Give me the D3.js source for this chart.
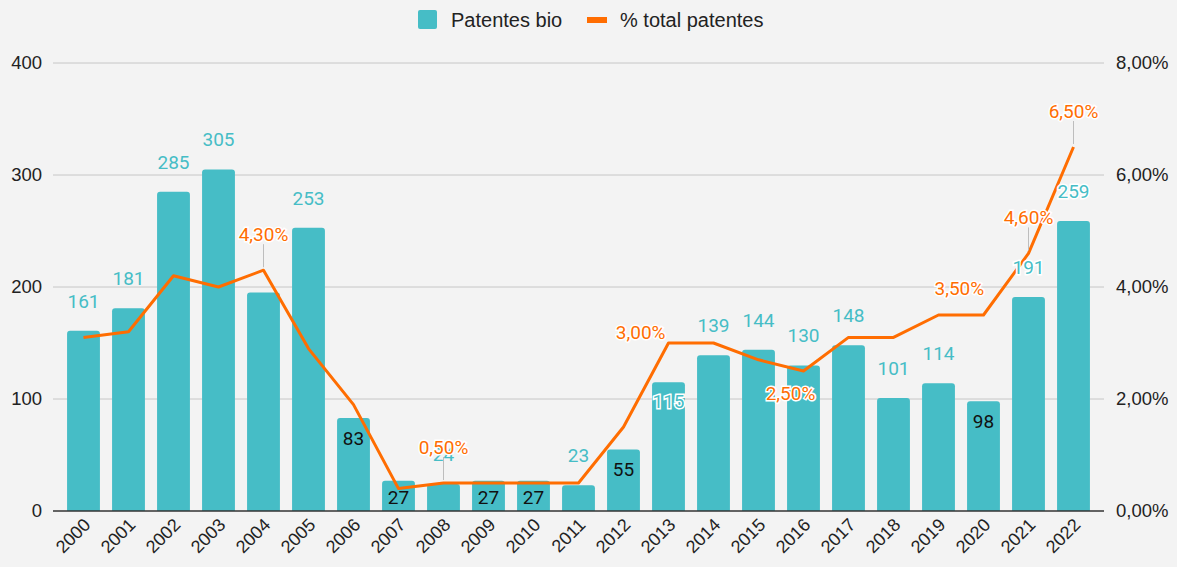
<!DOCTYPE html>
<html>
<head>
<meta charset="utf-8">
<script src="https://cdn.jsdelivr.net/npm/d3@7"></script>
<style>
  body { margin: 0; background: #f3f3f3; }
  svg { display: block; }
</style>
</head>
<body>
<div id="chart"></div>
<script>
// data
var years = ["2000","2001","2002","2003","2004","2005","2006","2007","2008","2009","2010","2011",
             "2012","2013","2014","2015","2016","2017","2018","2019","2020","2021","2022"];
var patentesBio = [161,181,285,305,195,253,83,27,24,27,27,23,55,115,139,144,130,148,101,114,98,191,259];
var pctTotal = [3.1,3.2,4.2,4.0,4.3,2.9,1.9,0.4,0.5,0.5,0.5,0.5,1.5,3.0,3.0,2.7,2.5,3.1,3.1,3.5,3.5,4.6,6.5];
var leftTicks = [0,100,200,300,400];
var rightTicks = [0,2,4,6,8];

// how the annotations are placed in the original
var barLabelMode = {"2004": "hide", "2006": "in", "2007": "in", "2009": "in", "2010": "in",
                    "2012": "in", "2013": "inHalo", "2020": "in"};
var lineLabelMode = {"2004": "leader", "2008": "leader", "2013": "left", "2016": "below",
                     "2019": "right", "2021": "leader", "2022": "leader"};

var width = 1177, height = 567;
var teal = "#46bdc6", orange = "#ff6d01";
var axisFont = "'Liberation Sans', Arial, sans-serif";
var labelFont = "Roboto, 'Noto Sans', sans-serif";

var svg = d3.select("#chart").append("svg")
	.attr("width", width)
	.attr("height", height)
	.style("background", "#f3f3f3");

var x = d3.scaleBand().domain(years).range([61, 1096]).paddingInner(0.27).paddingOuter(0.135);
var y = d3.scaleLinear().domain([0, 400]).range([511, 63]);
var y2 = d3.scaleLinear().domain([0, 8]).range([511, 63]);
var gridLeft = 53, gridRight = 1104;

// gridlines
svg.append("g").selectAll("line")
	.data(leftTicks.slice(1))
	.enter().append("line")
	.attr("x1", gridLeft).attr("x2", gridRight)
	.attr("y1", function(d) { return y(d); })
	.attr("y2", function(d) { return y(d); })
	.attr("stroke", "#c6c6c6").attr("stroke-width", 1);

// left axis labels
svg.append("g").selectAll("text")
	.data(leftTicks)
	.enter().append("text")
	.attr("x", 42)
	.attr("y", function(d) { return y(d) + 6; })
	.attr("text-anchor", "end")
	.style("font-family", axisFont).style("font-size", "18.5px").attr("fill", "#222")
	.text(function(d) { return d; });

// right axis labels
svg.append("g").selectAll("text")
	.data(rightTicks)
	.enter().append("text")
	.attr("x", 1116)
	.attr("y", function(d) { return y2(d) + 6; })
	.style("font-family", axisFont).style("font-size", "18.5px").attr("fill", "#222")
	.text(function(d) { return d.toFixed(2).replace(".", ",") + "%"; });

// bars with rounded tops
function barPath(d, i) {
	var x0 = x(years[i]), w = x.bandwidth(), yt = y(d), yb = y(0), r = 3;
	return "M" + x0 + "," + yb + "V" + (yt + r) + "Q" + x0 + "," + yt + " " + (x0 + r) + "," + yt +
		"H" + (x0 + w - r) + "Q" + (x0 + w) + "," + yt + " " + (x0 + w) + "," + (yt + r) + "V" + yb + "Z";
}
svg.append("g").selectAll("path")
	.data(patentesBio)
	.enter().append("path")
	.attr("d", barPath)
	.attr("fill", teal);

// baseline
svg.append("line")
	.attr("x1", gridLeft).attr("x2", gridRight)
	.attr("y1", y(0)).attr("y2", y(0))
	.attr("stroke", "#333").attr("stroke-width", 1.5);

// x labels
svg.append("g").selectAll("text")
	.data(years)
	.enter().append("text")
	.attr("transform", function(d) {
		return "translate(" + (x(d) + x.bandwidth() / 2 + 8) + ",526) rotate(-45)";
	})
	.attr("text-anchor", "end")
	.style("font-family", axisFont).style("font-size", "18px").attr("fill", "#222")
	.text(function(d) { return d; });

// the line
var cx = function(i) { return x(years[i]) + x.bandwidth() / 2; };
var line = d3.line()
	.x(function(d, i) { return cx(i); })
	.y(function(d) { return y2(d); });
svg.append("path")
	.datum(pctTotal)
	.attr("d", line)
	.attr("fill", "none")
	.attr("stroke", orange)
	.attr("stroke-width", 3)
	.attr("stroke-linejoin", "round");

// bar annotations
var barLabels = svg.append("g");
patentesBio.forEach(function(d, i) {
	var mode = barLabelMode[years[i]] || "above";
	if (mode == "hide") return;
	var top = y(d);
	var t = barLabels.append("text")
		.attr("x", cx(i))
		.attr("text-anchor", "middle")
		.style("font-family", labelFont).style("font-size", "19px");
	if (mode == "in") {
		t.attr("y", Math.min(top + 27, 504)).attr("fill", "#111");
	} else if (mode == "inHalo") {
		t.attr("y", top + 26).attr("fill", teal)
			.attr("stroke", "#fff").attr("stroke-width", 3).attr("paint-order", "stroke");
	} else {
		t.attr("y", top - 23).attr("fill", teal)
			.attr("stroke", "#fff").attr("stroke-width", 3).attr("paint-order", "stroke")
			.attr("stroke-opacity", (years[i] == "2021" || years[i] == "2022") ? 1 : 0);
	}
	t.text(d);
});

// line annotations
var lineLabels = svg.append("g");
pctTotal.forEach(function(d, i) {
	var mode = lineLabelMode[years[i]];
	if (!mode) return;
	var px = cx(i), py = y2(d);
	var lx = px, ly = py - 29, anchor = "middle";
	if (mode == "leader") {
		lineLabels.append("line")
			.attr("x1", px).attr("x2", px)
			.attr("y1", py - 3).attr("y2", py - 26)
			.attr("stroke", "#bdbdbd").attr("stroke-width", 1);
	} else if (mode == "left") {
		lx = px - 3; ly = py - 4; anchor = "end";
	} else if (mode == "below") {
		lx = px - 13; ly = py + 29;
	} else if (mode == "right") {
		lx = px - 4; ly = py - 20; anchor = "start";
	}
	lineLabels.append("text")
		.attr("x", lx).attr("y", ly)
		.attr("text-anchor", anchor)
		.style("font-family", labelFont).style("font-size", "19px")
		.attr("fill", orange)
		.attr("stroke", "#fff").attr("stroke-width", 3).attr("paint-order", "stroke")
		.text(d.toFixed(2).replace(".", ",") + "%");
});

// legend
var legend = svg.append("g");
legend.append("rect")
	.attr("x", 418).attr("y", 10).attr("width", 19).attr("height", 19)
	.attr("rx", 2).attr("fill", teal);
legend.append("text")
	.attr("x", 451).attr("y", 27)
	.style("font-family", axisFont).style("font-size", "20px").attr("fill", "#222")
	.text("Patentes bio");
legend.append("rect")
	.attr("x", 587).attr("y", 17).attr("width", 20).attr("height", 6)
	.attr("fill", orange);
legend.append("text")
	.attr("x", 620).attr("y", 27)
	.style("font-family", axisFont).style("font-size", "20px").attr("fill", "#222")
	.text("% total patentes");
</script>
</body>
</html>
